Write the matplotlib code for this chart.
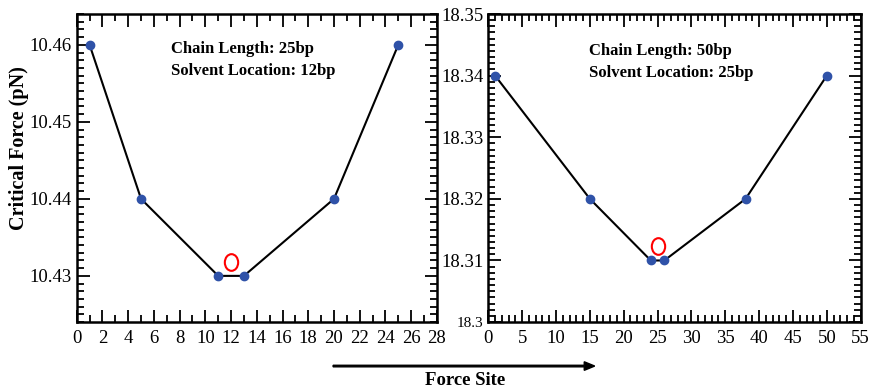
import numpy as np
import matplotlib.pyplot as plt
from matplotlib.path import Path
from matplotlib.patches import FancyArrow
from matplotlib.ticker import MultipleLocator, FormatStrFormatter

plt.rcParams['font.family'] = ['Liberation Serif', 'DejaVu Serif']

# Ланцюг 25bp, розчинник на 12bp
site_25 = [1, 5, 11, 13, 20, 25]
force_25 = [10.46, 10.44, 10.43, 10.43, 10.44, 10.46]
solvent_25 = (12, 10.4318)

# Ланцюг 50bp, розчинник на 25bp
site_50 = [1, 15, 24, 26, 38, 50]
force_50 = [18.34, 18.32, 18.31, 18.31, 18.32, 18.34]
solvent_50 = (25, 18.3124)

labels = ['Chain Length: 25bp\nSolvent Location: 12bp',
          'Chain Length: 50bp\nSolvent Location: 25bp']

fig = plt.figure(figsize=(8.72, 3.89), dpi=100)
ax1 = fig.add_axes([0.088, 0.172, 0.413, 0.792])
ax2 = fig.add_axes([0.560, 0.172, 0.427, 0.792])

blue = '#2f52a8'
# витягнутий по вертикалі еліпс для позначки розчинника
circ = Path.unit_circle()
ellipse = Path(circ.vertices * [0.8, 1.0], circ.codes)


def style(ax):
    ax.tick_params(which='both', direction='in', top=True, right=True,
                   labelsize=13.5, width=1.3)
    ax.tick_params(which='major', length=9)
    ax.tick_params(which='minor', length=5)
    ax.tick_params(axis='x', pad=6)
    for s in ax.spines.values():
        s.set_linewidth(1.8)


ax1.plot(site_25, force_25, '-', color='black', lw=1.5)
ax1.plot(site_25, force_25, 'o', color=blue, ms=6, zorder=3)
ax1.plot(*solvent_25, marker=ellipse, mfc='none', mec='red', ms=12, mew=1.5)
ax1.set_xlim(0, 28)
ax1.set_ylim(10.424, 10.464)
ax1.xaxis.set_major_locator(MultipleLocator(2))
ax1.xaxis.set_minor_locator(MultipleLocator(1))
ax1.yaxis.set_major_locator(MultipleLocator(0.01))
ax1.yaxis.set_minor_locator(MultipleLocator(0.001))
ax1.yaxis.set_major_formatter(FormatStrFormatter('%g'))
ax1.text(0.262, 0.85, labels[0], transform=ax1.transAxes, fontsize=12,
         fontweight='bold', va='center', linespacing=1.5)
style(ax1)

ax2.plot(site_50, force_50, '-', color='black', lw=1.5)
ax2.plot(site_50, force_50, 'o', color=blue, ms=6, zorder=3)
ax2.plot(*solvent_50, marker=ellipse, mfc='none', mec='red', ms=12, mew=1.5)
ax2.set_xlim(0, 55)
ax2.set_ylim(18.3, 18.35)
ax2.xaxis.set_major_locator(MultipleLocator(5))
ax2.xaxis.set_minor_locator(MultipleLocator(1))
ax2.yaxis.set_major_locator(MultipleLocator(0.01))
ax2.yaxis.set_minor_locator(MultipleLocator(0.001))
ax2.yaxis.set_major_formatter(FormatStrFormatter('%g'))
ax2.text(0.27, 0.844, labels[1], transform=ax2.transAxes, fontsize=12,
         fontweight='bold', va='center', linespacing=1.5)
style(ax2)

# нижній підпис правої осі Y дрібніший
fig.canvas.draw()
for t in ax2.get_yticklabels():
    if t.get_text() == '18.3':
        t.set_fontsize(11)

fig.text(0.022, 0.62, 'Critical Force (pN)', rotation=90, ha='center',
         va='center', fontsize=14.5, fontweight='bold')

# Стрілка та підпис осі X
fig.patches.append(FancyArrow(
    0.382, 0.059, 0.30, 0, width=0.004, head_width=0.022, head_length=0.012,
    length_includes_head=True, color='black', transform=fig.transFigure))
fig.text(0.533, 0.022, 'Force Site', ha='center', va='center',
         fontsize=13.5, fontweight='bold')

fig.savefig('out.png', dpi=100)
